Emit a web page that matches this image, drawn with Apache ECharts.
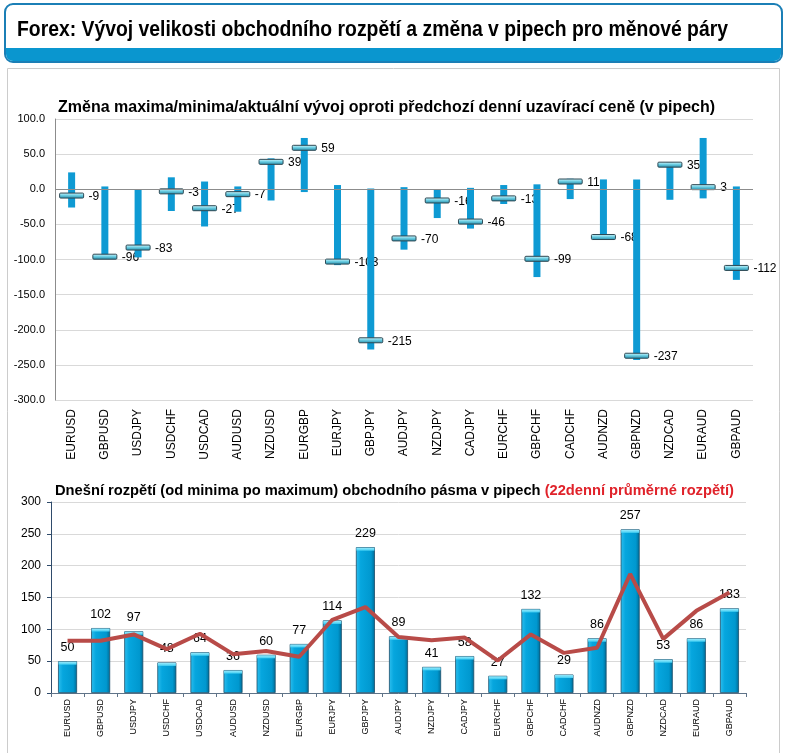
<!DOCTYPE html>
<html><head><meta charset="utf-8">
<script src="https://cdn.jsdelivr.net/npm/echarts@6/dist/echarts.min.js"></script>
<style>html,body{margin:0;padding:0;background:#fff}#c{width:789px;height:753px}</style>
</head><body><div id="c"></div>
<script>
const categories = ['EURUSD','GBPUSD','USDJPY','USDCHF','USDCAD','AUDUSD','NZDUSD','EURGBP','EURJPY','GBPJPY','AUDJPY','NZDJPY','CADJPY','EURCHF','GBPCHF','CADCHF','AUDNZD','GBPNZD','NZDCAD','EURAUD','GBPAUD'];
const highs  = [24, 4, 0, 17, 11, 4, 44, 73, 6, 1, 3, 0, 2, 6, 7, 15, 14, 14, 38, 73, 4];
const lows   = [-26, -98, -97, -31, -53, -32, -16, -4, -108, -228, -86, -41, -56, -21, -125, -14, -72, -243, -15, -13, -129];
const closes = [-9, -96, -83, -3, -27, -7, 39, 59, -103, -215, -70, -16, -46, -13, -99, 11, -68, -237, 35, 3, -112];
const ranges = [50, 102, 97, 48, 64, 36, 60, 77, 114, 229, 89, 41, 58, 27, 132, 29, 86, 257, 53, 86, 133];
const avgRanges = [82, 82, 92, 69, 93, 61, 66, 57, 115, 135, 88, 83, 87, 51, 92, 63, 71, 187, 85, 129, 158];
const topTicks = {min: -300, max: 100, interval: 50};
const bottomTicks = {min: 0, max: 300, interval: 50};

const FONT = 'Liberation Sans, Arial, sans-serif';
const HEADER = 'Forex: Vývoj velikosti obchodního rozpětí a změna v pipech pro měnové páry';
const headerFont = 'bold 22px "Liberation Sans", Arial, sans-serif';
const mctx = document.createElement('canvas').getContext('2d');
mctx.font = headerFont;
const headerScale = 711 / mctx.measureText(HEADER).width;

const chart = echarts.init(document.getElementById('c'), null, {renderer: 'canvas'});

const hlcData = categories.map((c, i) => [i, lows[i], highs[i], closes[i]]);
const capData = ranges.map((v, i) => [i, v]);
const markerFill = new echarts.graphic.LinearGradient(0, 0, 0, 1, [
  {offset: 0, color: '#e4fbff'}, {offset: 0.45, color: '#6fd0e4'}, {offset: 1, color: '#1f87a6'}
]);
const barFill = new echarts.graphic.LinearGradient(0, 0, 1, 0, [
  {offset: 0, color: '#2fbfee'}, {offset: 0.25, color: '#06a6de'}, {offset: 0.8, color: '#0098cf'}, {offset: 1, color: '#006a94'}
]);
const capFill = new echarts.graphic.LinearGradient(0, 0, 0, 1, [
  {offset: 0, color: '#9aeafc'}, {offset: 1, color: '#3fcdf2'}
]);
const BARW = 19;

const option = {
  animation: false,
  graphic: [
    {type: 'rect', shape: {x: 7.5, y: 68.5, width: 772, height: 700}, style: {fill: '#fff', stroke: '#cccccc', lineWidth: 1}, z: -10},
    {type: 'rect', shape: {x: 5, y: 4, width: 777, height: 58, r: 8}, style: {fill: '#fff', stroke: '#1b7fb6', lineWidth: 2}, z: -5},
    {type: 'rect', shape: {x: 6, y: 48, width: 775, height: 13, r: [0, 0, 7, 7]}, style: {fill: '#0a96cf'}, z: -4},
    {type: 'text', x: 17, y: 30, scaleX: headerScale, style: {text: HEADER, font: headerFont, fill: '#000', verticalAlign: 'middle'}},
    {type: 'text', x: 58, y: 108, style: {text: 'Změna maxima/minima/aktuální vývoj oproti předchozí denní uzavírací ceně (v pipech)', font: 'bold 16px ' + FONT, fill: '#000', verticalAlign: 'middle'}},
    {type: 'text', x: 55, y: 491, style: {
      text: '{a|Dnešní rozpětí (od minima po maximum) obchodního pásma v pipech }{b|(22denní průměrné rozpětí)}',
      rich: {a: {font: 'bold 14.7px ' + FONT, fill: '#000'}, b: {font: 'bold 14.7px ' + FONT, fill: '#e0222a'}},
      verticalAlign: 'middle'}}
  ],
  grid: [
    {left: 55, top: 119, width: 698, height: 281},
    {left: 51, top: 502, width: 695, height: 191}
  ],
  xAxis: [
    {type: 'category', gridIndex: 0, data: categories, position: 'bottom',
     axisLine: {show: false, onZero: false}, axisTick: {show: false},
     axisLabel: {rotate: 90, margin: 9, fontSize: 12, fontFamily: FONT, color: '#000', interval: 0}},
    {type: 'category', gridIndex: 1, data: categories,
     axisLine: {show: true, lineStyle: {color: '#5f7388'}},
     axisTick: {show: true, length: 4, lineStyle: {color: '#5f7388'}},
     axisLabel: {rotate: 90, margin: 6, fontSize: 9, fontFamily: FONT, color: '#000', interval: 0}}
  ],
  yAxis: [
    {type: 'value', gridIndex: 0, min: topTicks.min, max: topTicks.max, interval: topTicks.interval,
     axisLine: {show: true, lineStyle: {color: '#8c8c8c'}}, axisTick: {show: false},
     splitLine: {lineStyle: {color: '#d9d9d9'}},
     axisLabel: {formatter: v => v.toFixed(1), fontSize: 11, fontFamily: FONT, color: '#000', margin: 10}},
    {type: 'value', gridIndex: 1, min: bottomTicks.min, max: bottomTicks.max, interval: bottomTicks.interval,
     axisLine: {show: true, lineStyle: {color: '#2f4b6b'}}, axisTick: {show: true, length: 4, lineStyle: {color: '#2f4b6b'}},
     splitLine: {lineStyle: {color: '#d9d9d9'}},
     axisLabel: {fontSize: 12, fontFamily: FONT, color: '#000', margin: 10}}
  ],
  series: [
    {type: 'custom', xAxisIndex: 0, yAxisIndex: 0, data: hlcData,
     encode: {x: 0, y: [1, 2, 3]},
     renderItem: function (params, api) {
       const x = api.value(0);
       const lo = api.coord([x, api.value(1)]);
       const hi = api.coord([x, api.value(2)]);
       const cl = api.coord([x, api.value(3)]);
       const bw = 7, mw = 24, mh = 5;
       return {type: 'group', children: [
         {type: 'rect', shape: {x: hi[0] - bw / 2, y: hi[1], width: bw, height: lo[1] - hi[1]}, style: {fill: '#0e9ad3'}},
         {type: 'rect', shape: {x: cl[0] - mw / 2, y: cl[1] - mh / 2, width: mw, height: mh, r: 1}, style: {fill: markerFill, stroke: '#2d4853', lineWidth: 1}},
         {type: 'text', style: {x: cl[0] + mw / 2 + 5, y: cl[1] + 1, text: String(api.value(3)), fill: '#000', font: '12px ' + FONT, verticalAlign: 'middle', align: 'left'}}
       ]};
     },
     markLine: {silent: true, symbol: 'none', label: {show: false}, lineStyle: {color: '#8c8c8c', type: 'solid', width: 1}, data: [{yAxis: 0}]},
     z: 3},
    {type: 'bar', xAxisIndex: 1, yAxisIndex: 1, data: ranges, barWidth: BARW,
     itemStyle: {color: barFill, borderColor: '#1c4e6a', borderWidth: 0.8},
     label: {show: true, position: 'top', distance: 7, fontSize: 12.5, fontFamily: FONT, color: '#000'}, z: 2},
    {type: 'custom', xAxisIndex: 1, yAxisIndex: 1, data: capData, encode: {x: 0, y: 1},
     renderItem: function (params, api) {
       const p = api.coord([api.value(0), api.value(1)]);
       return {type: 'rect', shape: {x: p[0] - BARW / 2 + 0.5, y: p[1] + 0.5, width: BARW - 1, height: 3}, style: {fill: capFill}};
     }, z: 3},
    {type: 'line', xAxisIndex: 1, yAxisIndex: 1, data: avgRanges, symbol: 'none',
     lineStyle: {color: '#b84b48', width: 4}, z: 5}
  ]
};
chart.setOption(option);
</script></body></html>
